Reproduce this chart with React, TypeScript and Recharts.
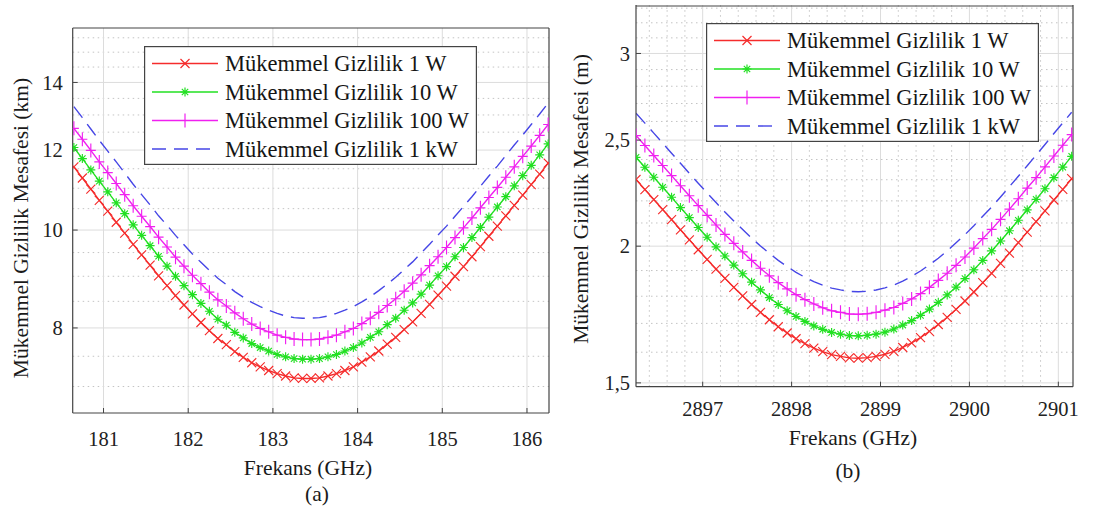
import React from 'react';
import { LineChart, Line, XAxis, YAxis, ReferenceLine, Legend } from 'recharts';

const FONT = '"Liberation Serif", "Times New Roman", serif';

// ---------- Panel (a): 183 GHz band, distance in km ----------
const freqA = [180.65, 180.75, 180.85, 180.95, 181.05, 181.15, 181.25, 181.35, 181.45, 181.55, 181.65, 181.75, 181.85, 181.95, 182.05, 182.15, 182.25, 182.35, 182.45, 182.55, 182.65, 182.75, 182.85, 182.95, 183.05, 183.15, 183.25, 183.35, 183.45, 183.55, 183.65, 183.75, 183.85, 183.95, 184.05, 184.15, 184.25, 184.35, 184.45, 184.55, 184.65, 184.75, 184.85, 184.95, 185.05, 185.15, 185.25, 185.35, 185.45, 185.55, 185.65, 185.75, 185.85, 185.95, 186.05, 186.15, 186.25];
const w1A = [11.55, 11.26, 10.98, 10.70, 10.44, 10.18, 9.93, 9.68, 9.45, 9.23, 9.01, 8.81, 8.61, 8.43, 8.26, 8.10, 7.95, 7.81, 7.70, 7.58, 7.48, 7.39, 7.32, 7.26, 7.21, 7.17, 7.14, 7.13, 7.13, 7.14, 7.17, 7.21, 7.26, 7.32, 7.40, 7.49, 7.59, 7.71, 7.83, 7.97, 8.11, 8.27, 8.44, 8.62, 8.80, 9.00, 9.20, 9.41, 9.63, 9.86, 10.09, 10.33, 10.58, 10.83, 11.09, 11.36, 11.65];
const w10A = [12.07, 11.77, 11.47, 11.18, 10.91, 10.64, 10.38, 10.12, 9.88, 9.65, 9.42, 9.21, 9.00, 8.81, 8.63, 8.46, 8.31, 8.16, 8.05, 7.92, 7.82, 7.72, 7.65, 7.59, 7.53, 7.49, 7.46, 7.45, 7.45, 7.46, 7.49, 7.53, 7.59, 7.65, 7.73, 7.83, 7.93, 8.06, 8.18, 8.33, 8.47, 8.64, 8.82, 9.01, 9.20, 9.41, 9.61, 9.83, 10.06, 10.30, 10.54, 10.79, 11.06, 11.32, 11.59, 11.87, 12.17];
const w100A = [12.61, 12.30, 11.99, 11.68, 11.40, 11.12, 10.84, 10.57, 10.32, 10.08, 9.84, 9.62, 9.40, 9.21, 9.02, 8.85, 8.68, 8.53, 8.41, 8.28, 8.17, 8.07, 7.99, 7.93, 7.87, 7.83, 7.80, 7.79, 7.79, 7.80, 7.83, 7.87, 7.93, 7.99, 8.08, 8.18, 8.29, 8.42, 8.55, 8.70, 8.86, 9.03, 9.22, 9.41, 9.61, 9.83, 10.05, 10.28, 10.52, 10.77, 11.02, 11.28, 11.55, 11.83, 12.11, 12.41, 12.72];
const kw1A = [13.25, 12.92, 12.59, 12.27, 11.97, 11.68, 11.39, 11.10, 10.84, 10.59, 10.33, 10.11, 9.88, 9.67, 9.47, 9.29, 9.12, 8.96, 8.83, 8.69, 8.58, 8.48, 8.40, 8.33, 8.27, 8.22, 8.19, 8.18, 8.18, 8.19, 8.22, 8.27, 8.33, 8.40, 8.49, 8.59, 8.71, 8.84, 8.98, 9.14, 9.30, 9.49, 9.68, 9.89, 10.09, 10.32, 10.55, 10.79, 11.05, 11.31, 11.57, 11.85, 12.14, 12.42, 12.72, 13.03, 13.36];

const xDomainA = [180.636, 186.26];
const yDomainA = [6.59, 15.85];
const xTicksA = [181, 182, 183, 184, 185, 186];
const yTicksA = [8, 10, 12, 14];
const xMinorA: number[] = [];
const yMinorA = [7, 7.5, 8.5, 9, 9.5, 10.5, 11, 11.5, 12.5, 13, 13.5, 14.5, 15, 15.5];

// ---------- Panel (b): 2899 GHz band, distance in m ----------
const freqB = [2896.25, 2896.35, 2896.45, 2896.55, 2896.65, 2896.75, 2896.85, 2896.95, 2897.05, 2897.15, 2897.25, 2897.35, 2897.45, 2897.55, 2897.65, 2897.75, 2897.85, 2897.95, 2898.05, 2898.15, 2898.25, 2898.35, 2898.45, 2898.55, 2898.65, 2898.75, 2898.85, 2898.95, 2899.05, 2899.15, 2899.25, 2899.35, 2899.45, 2899.55, 2899.65, 2899.75, 2899.85, 2899.95, 2900.05, 2900.15, 2900.25, 2900.35, 2900.45, 2900.55, 2900.65, 2900.75, 2900.85, 2900.95, 2901.05, 2901.15];
const w1B = [2.301, 2.253, 2.206, 2.160, 2.115, 2.070, 2.027, 1.985, 1.945, 1.906, 1.869, 1.834, 1.801, 1.769, 1.740, 1.713, 1.688, 1.666, 1.646, 1.629, 1.614, 1.602, 1.592, 1.586, 1.581, 1.580, 1.582, 1.586, 1.593, 1.603, 1.616, 1.632, 1.650, 1.672, 1.696, 1.722, 1.751, 1.782, 1.816, 1.852, 1.889, 1.929, 1.971, 2.015, 2.060, 2.106, 2.154, 2.204, 2.254, 2.305];
const w10B = [2.411, 2.361, 2.312, 2.264, 2.217, 2.169, 2.124, 2.080, 2.038, 1.997, 1.959, 1.922, 1.887, 1.854, 1.824, 1.795, 1.769, 1.746, 1.725, 1.707, 1.691, 1.679, 1.668, 1.662, 1.657, 1.656, 1.658, 1.662, 1.669, 1.680, 1.694, 1.710, 1.729, 1.752, 1.777, 1.805, 1.835, 1.868, 1.903, 1.941, 1.980, 2.022, 2.066, 2.112, 2.159, 2.207, 2.257, 2.310, 2.362, 2.416];
const w100B = [2.524, 2.472, 2.420, 2.370, 2.320, 2.271, 2.224, 2.178, 2.134, 2.091, 2.050, 2.012, 1.976, 1.941, 1.909, 1.879, 1.852, 1.828, 1.806, 1.787, 1.771, 1.757, 1.746, 1.740, 1.734, 1.733, 1.735, 1.740, 1.748, 1.758, 1.773, 1.790, 1.810, 1.834, 1.861, 1.889, 1.921, 1.955, 1.992, 2.032, 2.072, 2.116, 2.162, 2.210, 2.260, 2.310, 2.363, 2.418, 2.473, 2.529];
const kw1B = [2.646, 2.591, 2.537, 2.484, 2.432, 2.381, 2.331, 2.283, 2.237, 2.192, 2.149, 2.109, 2.071, 2.034, 2.001, 1.970, 1.941, 1.916, 1.893, 1.873, 1.856, 1.842, 1.831, 1.824, 1.818, 1.817, 1.819, 1.824, 1.832, 1.843, 1.858, 1.877, 1.898, 1.923, 1.950, 1.980, 2.014, 2.049, 2.088, 2.130, 2.172, 2.218, 2.267, 2.317, 2.369, 2.422, 2.477, 2.535, 2.592, 2.651];

const xDomainB = [2896.25, 2901.165];
const yDomainB = [1.488, 3.322];
const xTicksB = [2897, 2898, 2899, 2900, 2901];
const yTicksB = [1.5, 2, 2.5, 3];
const xMinorB = [2896.4, 2896.6, 2896.8, 2897.2, 2897.4, 2897.6, 2897.8, 2898.2, 2898.4, 2898.6, 2898.8, 2899.2, 2899.4, 2899.6, 2899.8, 2900.2, 2900.4, 2900.6, 2900.8];
const yMinorB = [1.6, 1.7, 1.8, 1.9, 2.1, 2.2, 2.3, 2.4, 2.6, 2.7, 2.8, 2.9, 3.1, 3.2, 3.3];

const seriesNames = ['Mükemmel Gizlilik 1 W', 'Mükemmel Gizlilik 10 W', 'Mükemmel Gizlilik 100 W', 'Mükemmel Gizlilik 1 kW'];

type Marker = 'x' | 'star' | 'plus' | 'none';
const SERIES: { key: string; name: string; color: string; marker: Marker; dash?: string }[] = [
  { key: 'w1', name: seriesNames[0], color: '#f52c2c', marker: 'x' },
  { key: 'w10', name: seriesNames[1], color: '#22e022', marker: 'star' },
  { key: 'w100', name: seriesNames[2], color: '#f020f0', marker: 'plus' },
  { key: 'kw1', name: seriesNames[3], color: '#4646e6', marker: 'none', dash: '14 8' },
];

const dataA = freqA.map((f, i) => ({ f, w1: w1A[i], w10: w10A[i], w100: w100A[i], kw1: kw1A[i] }));
const dataB = freqB.map((f, i) => ({ f, w1: w1B[i], w10: w10B[i], w100: w100B[i], kw1: kw1B[i] }));

function markerPath(type: Marker, cx: number, cy: number): string {
  if (type === 'x') {
    const r = 4.5;
    return `M${cx - r},${cy - r}L${cx + r},${cy + r}M${cx - r},${cy + r}L${cx + r},${cy - r}`;
  }
  if (type === 'star') {
    const r = 4.5, d = 3.2;
    return `M${cx - r},${cy}L${cx + r},${cy}M${cx},${cy - r}L${cx},${cy + r}M${cx - d},${cy - d}L${cx + d},${cy + d}M${cx - d},${cy + d}L${cx + d},${cy - d}`;
  }
  if (type === 'plus') {
    return `M${cx - 5},${cy}L${cx + 5},${cy}M${cx},${cy - 7}L${cx},${cy + 7}`;
  }
  return '';
}

const makeDot = (type: Marker, color: string) => (props: any) => {
  const { cx, cy, index } = props;
  if (cx == null || cy == null || type === 'none') return <g key={`e${index}`} />;
  return <path key={`m${index}`} d={markerPath(type, cx, cy)} stroke={color} strokeWidth={1.15} fill="none" />;
};

function LegendBox() {
  const rows = [17.5, 46, 74.5, 103];
  return (
    <svg width={333} height={119} style={{ display: 'block' }}>
      <rect x={0.6} y={0.6} width={331.8} height={117.8} fill="#ffffff" stroke="#444" strokeWidth={1.2} />
      {SERIES.map((s, i) => (
        <g key={s.key}>
          <line x1={8} x2={74} y1={rows[i]} y2={rows[i]} stroke={s.color} strokeWidth={1.4} strokeDasharray={s.dash} />
          {s.marker !== 'none' && <path d={markerPath(s.marker, 41, rows[i])} stroke={s.color} strokeWidth={1.2} fill="none" />}
          <text x={81} y={rows[i] + 7.5} fontFamily={FONT} fontSize={22.5} fill="#151515">{s.name}</text>
        </g>
      ))}
    </svg>
  );
}

const AX = '#444';

function Panel(props: any) {
  const { data, width, height, margin, xDomain, yDomain, xTicks, yTicks, xMinor, yMinor, xTickMargin, yTickMargin, yFormat, legendPos } = props;
  const tickStyle = { fontFamily: FONT, fontSize: 20.5, fill: '#222' };
  return (
    <LineChart width={width} height={height} data={data} margin={margin}>
      {xMinor.map((v: number) => <ReferenceLine key={'xm' + v} x={v} stroke="#c4c4c4" strokeDasharray="1.5 3.5" />)}
      {yMinor.map((v: number) => <ReferenceLine key={'ym' + v} y={v} stroke="#c4c4c4" strokeDasharray="1.5 3.5" />)}
      {xTicks.map((v: number) => <ReferenceLine key={'xg' + v} x={v} stroke="#dcdcdc" />)}
      {yTicks.map((v: number) => <ReferenceLine key={'yg' + v} y={v} stroke="#dcdcdc" />)}

      <XAxis dataKey="f" type="number" domain={xDomain} allowDataOverflow ticks={xTicks} interval={0}
        height={1} tickSize={-5} tickMargin={xTickMargin} axisLine={{ stroke: AX, strokeWidth: 1.2 }} tickLine={{ stroke: AX }} tick={tickStyle} />
      <XAxis xAxisId="top" orientation="top" mirror type="number" domain={xDomain} allowDataOverflow ticks={xTicks} interval={0}
        height={1} tickSize={5} axisLine={{ stroke: AX, strokeWidth: 1.2 }} tickLine={{ stroke: AX }} tick={false} />
      {xMinor.length > 0 && (
        <XAxis xAxisId="bm" mirror type="number" domain={xDomain} allowDataOverflow ticks={xMinor} interval={0}
          height={1} tickSize={3} axisLine={false} tickLine={{ stroke: AX }} tick={false} />
      )}
      {xMinor.length > 0 && (
        <XAxis xAxisId="tm" orientation="top" mirror type="number" domain={xDomain} allowDataOverflow ticks={xMinor} interval={0}
          height={1} tickSize={3} axisLine={false} tickLine={{ stroke: AX }} tick={false} />
      )}
      <YAxis scale="log" type="number" domain={yDomain} allowDataOverflow ticks={yTicks} interval={0}
        width={1} tickSize={-5} tickMargin={yTickMargin} axisLine={{ stroke: AX, strokeWidth: 1.2 }} tickLine={{ stroke: AX }} tick={tickStyle} tickFormatter={yFormat} />
      <YAxis yAxisId="right" orientation="right" mirror scale="log" type="number" domain={yDomain} allowDataOverflow ticks={yTicks} interval={0}
        width={1} tickSize={5} axisLine={{ stroke: AX, strokeWidth: 1.2 }} tickLine={{ stroke: AX }} tick={false} />
      <YAxis yAxisId="lm" mirror scale="log" type="number" domain={yDomain} allowDataOverflow ticks={yMinor} interval={0}
        width={1} tickSize={3} axisLine={false} tickLine={{ stroke: AX }} tick={false} />
      <YAxis yAxisId="rm" orientation="right" mirror scale="log" type="number" domain={yDomain} allowDataOverflow ticks={yMinor} interval={0}
        width={1} tickSize={3} axisLine={false} tickLine={{ stroke: AX }} tick={false} />

      {SERIES.map((s) => (
        <Line key={s.key} dataKey={s.key} name={s.name} type="linear" stroke={s.color} strokeWidth={1.4}
          strokeDasharray={s.dash} dot={makeDot(s.marker, s.color)} activeDot={false} isAnimationActive={false} />
      ))}
      <Legend layout="vertical" align="center" verticalAlign="middle"
        wrapperStyle={{ left: legendPos[0], top: legendPos[1], width: 333, height: 119 }}
        content={() => <LegendBox />} />
    </LineChart>
  );
}

const textBase: React.CSSProperties = { position: 'absolute', fontFamily: FONT, color: '#1a1a1a', whiteSpace: 'nowrap', lineHeight: 1 };

function CenterText({ x, y, size, children }: any) {
  return <div style={{ ...textBase, left: x, top: y, fontSize: size, transform: 'translate(-50%, -50%)' }}>{children}</div>;
}
function VText({ x, y, size, children }: any) {
  return <div style={{ ...textBase, left: x, top: y, fontSize: size, transform: 'translate(-50%, -50%) rotate(-90deg)' }}>{children}</div>;
}

export default function App() {
  return (
    <div style={{ position: 'absolute', left: 0, top: 0, width: 1113, height: 509, background: '#ffffff', overflow: 'hidden' }}>
      <div style={{ position: 'absolute', left: 0, top: 0 }}>
        <Panel data={dataA} width={560} height={509} margin={{ top: 28, right: 11, bottom: 95, left: 71.7 }}
          xDomain={xDomainA} yDomain={yDomainA} xTicks={xTicksA} yTicks={yTicksA} xMinor={xMinorA} yMinor={yMinorA}
          xTickMargin={23} yTickMargin={15} yFormat={(v: number) => String(v)} legendPos={[144, 46]} />
      </div>
      <div style={{ position: 'absolute', left: 560, top: 0 }}>
        <Panel data={dataB} width={553} height={509} margin={{ top: 5, right: 40, bottom: 121.3, left: 75 }}
          xDomain={xDomainB} yDomain={yDomainB} xTicks={xTicksB} yTicks={yTicksB} xMinor={xMinorB} yMinor={yMinorB}
          xTickMargin={20} yTickMargin={11} yFormat={(v: number) => String(v).replace('.', ',')} legendPos={[146, 23]} />
      </div>
      <VText x={22} y={228} size={21.5}>Mükemmel Gizlilik Mesafesi (km)</VText>
      <CenterText x={308} y={469} size={21.5}>Frekans (GHz)</CenterText>
      <CenterText x={317} y={495} size={21.5}>(a)</CenterText>
      <VText x={582} y={199} size={21.5}>Mükemmel Gizlilik Mesafesi (m)</VText>
      <CenterText x={853} y={439} size={21.5}>Frekans (GHz)</CenterText>
      <CenterText x={848} y={472} size={21.5}>(b)</CenterText>
    </div>
  );
}
